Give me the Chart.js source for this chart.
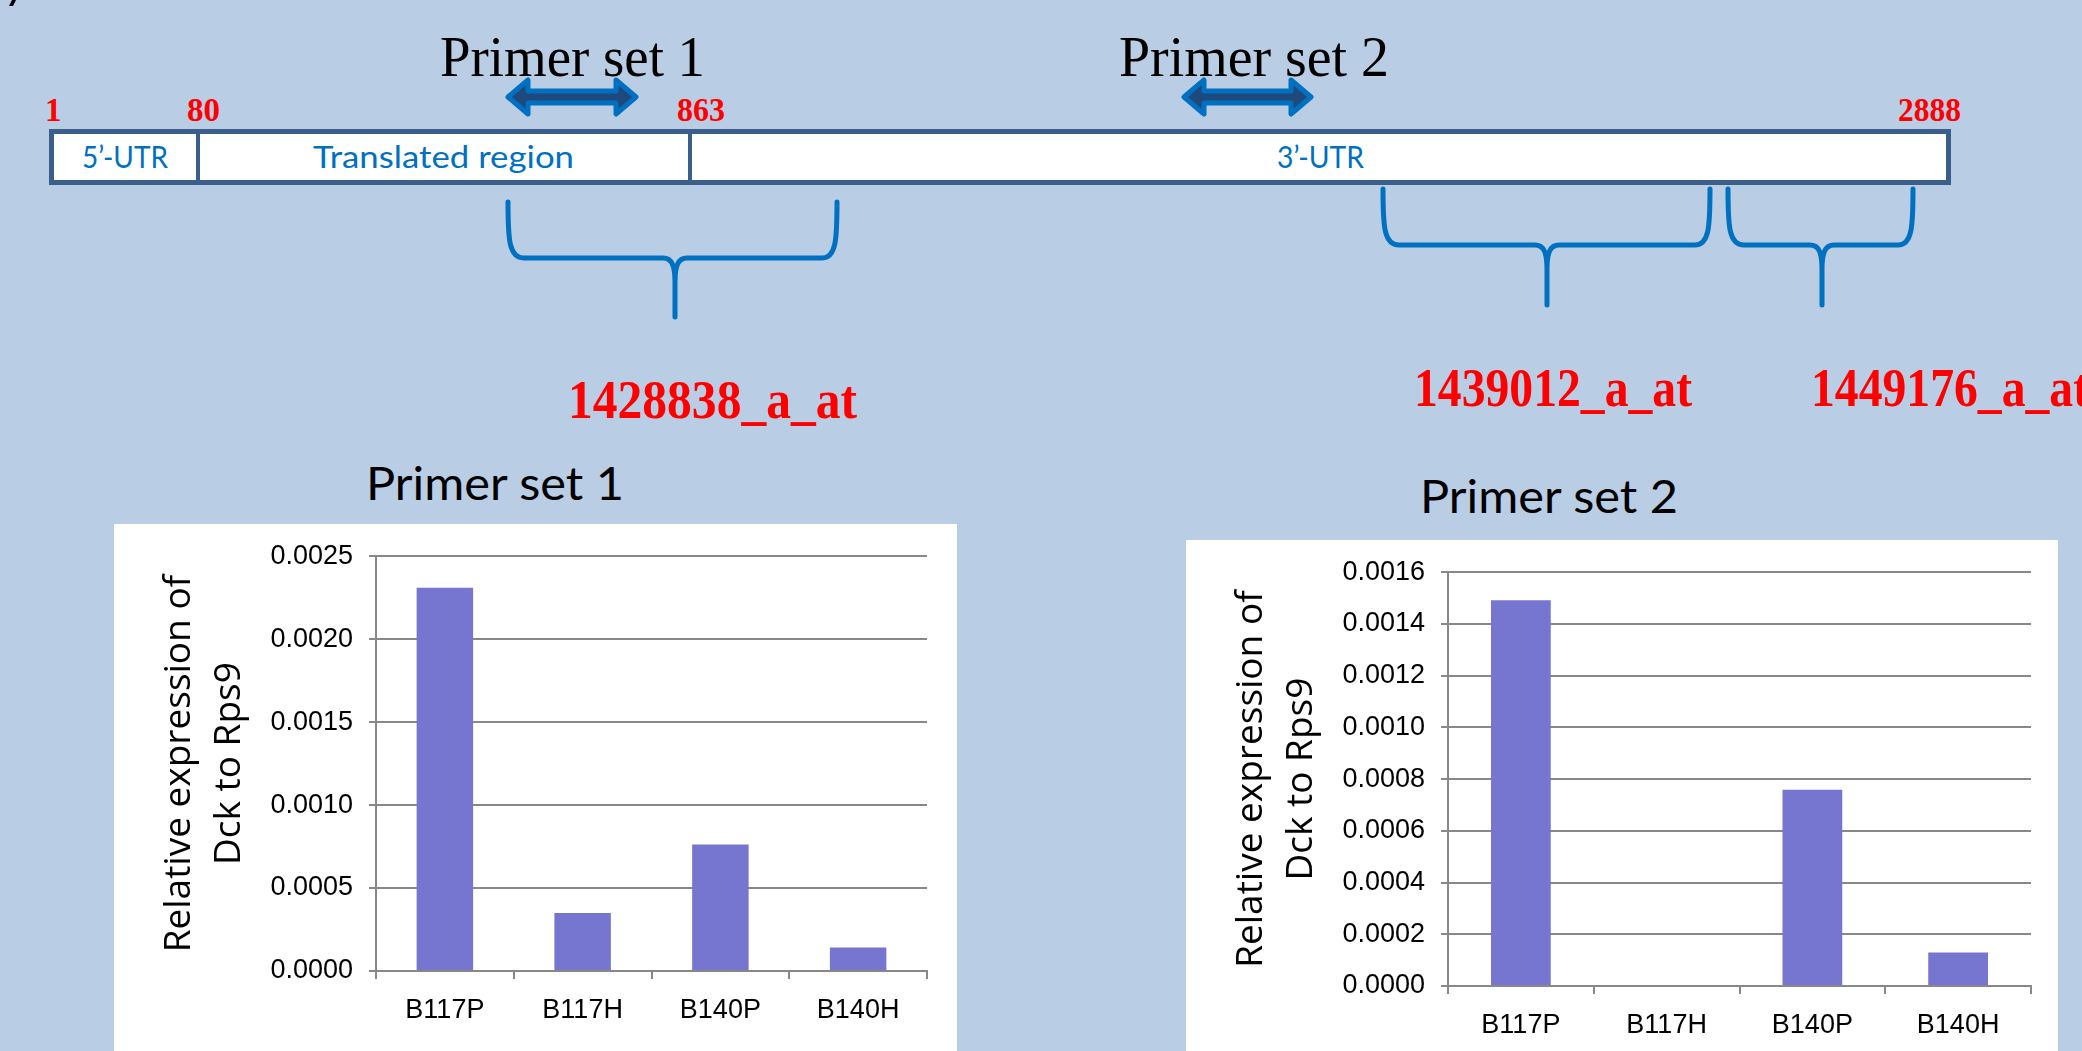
<!DOCTYPE html>
<html>
<head>
<meta charset="utf-8">
<script src="https://cdn.jsdelivr.net/npm/chart.js@4.4.0/dist/chart.umd.min.js"></script>
<style>
  html, body { margin: 0; padding: 0; }
  body { width: 2082px; height: 1051px; overflow: hidden; background: #B9CDE4; position: relative; }
  #diagram { position: absolute; left: 0; top: 0; }
  .panel { position: absolute; background: #ffffff; }
  #p1 { left: 114px; top: 524px; width: 843px; height: 527px; }
  #p2 { left: 1186px; top: 540px; width: 872px; height: 511px; }
</style>
</head>
<body>

<svg id="diagram" width="2082" height="1051" xmlns="http://www.w3.org/2000/svg">
  <!-- stray mark at top-left -->
  <path d="M9,6 L12,0 L16,0 L13,6 Z" fill="#000"/>

  <!-- titles over the primer arrows -->
  <text x="440" y="76" font-family="Liberation Serif" font-size="57" textLength="265" lengthAdjust="spacingAndGlyphs">Primer set 1</text>
  <text x="1119" y="76" font-family="Liberation Serif" font-size="57" textLength="270" lengthAdjust="spacingAndGlyphs">Primer set 2</text>

  <!-- double arrows -->
  <path d="M508,97 L528,80 L528,91 L616,91 L616,80 L636,97 L616,114 L616,103 L528,103 L528,114 Z"
        fill="#1F497D" stroke="#0070C0" stroke-width="5" stroke-linejoin="round"/>
  <path d="M1184,97 L1204,80 L1204,91 L1291,91 L1291,80 L1311,97 L1291,114 L1291,103 L1204,103 L1204,114 Z"
        fill="#1F497D" stroke="#0070C0" stroke-width="5" stroke-linejoin="round"/>

  <!-- nucleotide positions -->
  <g font-family="Liberation Serif" font-weight="bold" font-size="33" fill="#FF0000">
    <text x="45" y="121">1</text>
    <text x="187" y="121">80</text>
    <text x="677" y="121" textLength="48" lengthAdjust="spacingAndGlyphs">863</text>
    <text x="1898" y="121" textLength="63" lengthAdjust="spacingAndGlyphs">2888</text>
  </g>

  <!-- transcript box -->
  <rect x="51.5" y="131.5" width="1897" height="51" fill="#ffffff" stroke="#3A5F8B" stroke-width="5"/>
  <line x1="198" y1="131" x2="198" y2="183" stroke="#3A5F8B" stroke-width="4"/>
  <line x1="690" y1="131" x2="690" y2="183" stroke="#3A5F8B" stroke-width="4"/>
  <g font-family="Lato" font-size="31" fill="#0070C0">
    <text x="82" y="168" textLength="86" lengthAdjust="spacingAndGlyphs">5’-UTR</text>
    <text x="313" y="168" textLength="261" lengthAdjust="spacingAndGlyphs">Translated region</text>
    <text x="1277" y="168" textLength="87" lengthAdjust="spacingAndGlyphs">3’-UTR</text>
  </g>

  <!-- probe set braces -->
  <g fill="none" stroke="#0070C0" stroke-width="5" stroke-linecap="round" stroke-linejoin="round">
    <path d="M508,202 C508,240 509,258 524,258 L663,258 C672,258 675,266 675,282 L675,317 M675,282 C675,266 678,258 687,258 L822,258 C836,258 837,240 837,202"/>
    <path d="M1383,189 C1383,227 1384,245 1399,245 L1535,245 C1544,245 1547,253 1547,269 L1547,305 M1547,269 C1547,253 1550,245 1559,245 L1695,245 C1709,245 1710,227 1710,189"/>
    <path d="M1728,189 C1728,227 1729,245 1744,245 L1810,245 C1819,245 1822,253 1822,269 L1822,305 M1822,269 C1822,253 1825,245 1834,245 L1898,245 C1912,245 1913,227 1913,189"/>
  </g>

  <!-- probe set names -->
  <g font-family="Liberation Serif" font-weight="bold" font-size="54" fill="#FF0000">
    <text x="568" y="418" textLength="289" lengthAdjust="spacingAndGlyphs">1428838_a_at</text>
    <text x="1414" y="406" textLength="278" lengthAdjust="spacingAndGlyphs">1439012_a_at</text>
    <text x="1811" y="406" textLength="278" lengthAdjust="spacingAndGlyphs">1449176_a_at</text>
  </g>

  <!-- chart titles -->
  <text x="366" y="500" font-family="Lato" font-size="47" textLength="258" lengthAdjust="spacingAndGlyphs">Primer set 1</text>
  <text x="1420" y="513" font-family="Lato" font-size="47" textLength="258" lengthAdjust="spacingAndGlyphs">Primer set 2</text>
</svg>

<div class="panel" id="p1"><canvas id="chart1" width="843" height="527"></canvas></div>
<div class="panel" id="p2"><canvas id="chart2" width="872" height="511"></canvas></div>

<script>
// samples on the x axis
var categories = ['B117P', 'B117H', 'B140P', 'B140H'];

// relative expression of Dck to Rps9
var primerSet1 = [0.00231, 0.00035, 0.000762, 0.000142];
var primerSet2 = [0.001492, 0, 0.000759, 0.000130];

// y axis ranges
var set1Max = 0.0025, set1Step = 0.0005;
var set2Max = 0.0016, set2Step = 0.0002;

var yTitle = ['Relative expression of', 'Dck to Rps9'];

Chart.defaults.font.family = 'Liberation Sans';
Chart.defaults.color = '#000';

function makeOptions(yMax, yStep, xHeight, padRight) {
    return {
        responsive: false,
        animation: false,
        layout: { padding: { top: 30, right: padRight, left: 0, bottom: 0 } },
        plugins: {
            legend: { display: false },
            tooltip: { enabled: false },
        },
        scales: {
            x: {
                grid: {
                    display: true,
                    drawOnChartArea: false,
                    offset: true,
                    color: '#888888',
                    lineWidth: 2,
                    tickLength: 8,
                },
                border: { display: true, color: '#888888', width: 2 },
                ticks: { font: { size: 27 }, padding: 15, maxRotation: 0 },
                afterFit: function(scale) { scale.height = xHeight; },
            },
            y: {
                min: 0,
                max: yMax,
                grid: { color: '#888888', lineWidth: 2, tickLength: 7 },
                border: { display: true, color: '#888888', width: 2 },
                ticks: {
                    stepSize: yStep,
                    font: { size: 27 },
                    padding: 16,
                    callback: function(v) { return v.toFixed(4); },
                },
                title: {
                    display: true,
                    text: yTitle,
                    font: { family: 'Open Sans', size: 37, lineHeight: 50 / 37 },
                    padding: { top: 40, bottom: 0 },
                },
                afterFit: function(scale) { scale.width = 262; },
            },
        },
    };
}

function makeData(values) {
    return {
        labels: categories,
        datasets: [{
            data: values,
            backgroundColor: '#7676D0',
            borderWidth: 0,
            barPercentage: 0.41,
            categoryPercentage: 1.0,
        }]
    };
}

new Chart(document.getElementById('chart1'), {
    type: 'bar',
    data: makeData(primerSet1),
    options: makeOptions(set1Max, set1Step, 80, 30),
});

new Chart(document.getElementById('chart2'), {
    type: 'bar',
    data: makeData(primerSet2),
    options: makeOptions(set2Max, set2Step, 65, 27),
});
</script>
</body>
</html>
